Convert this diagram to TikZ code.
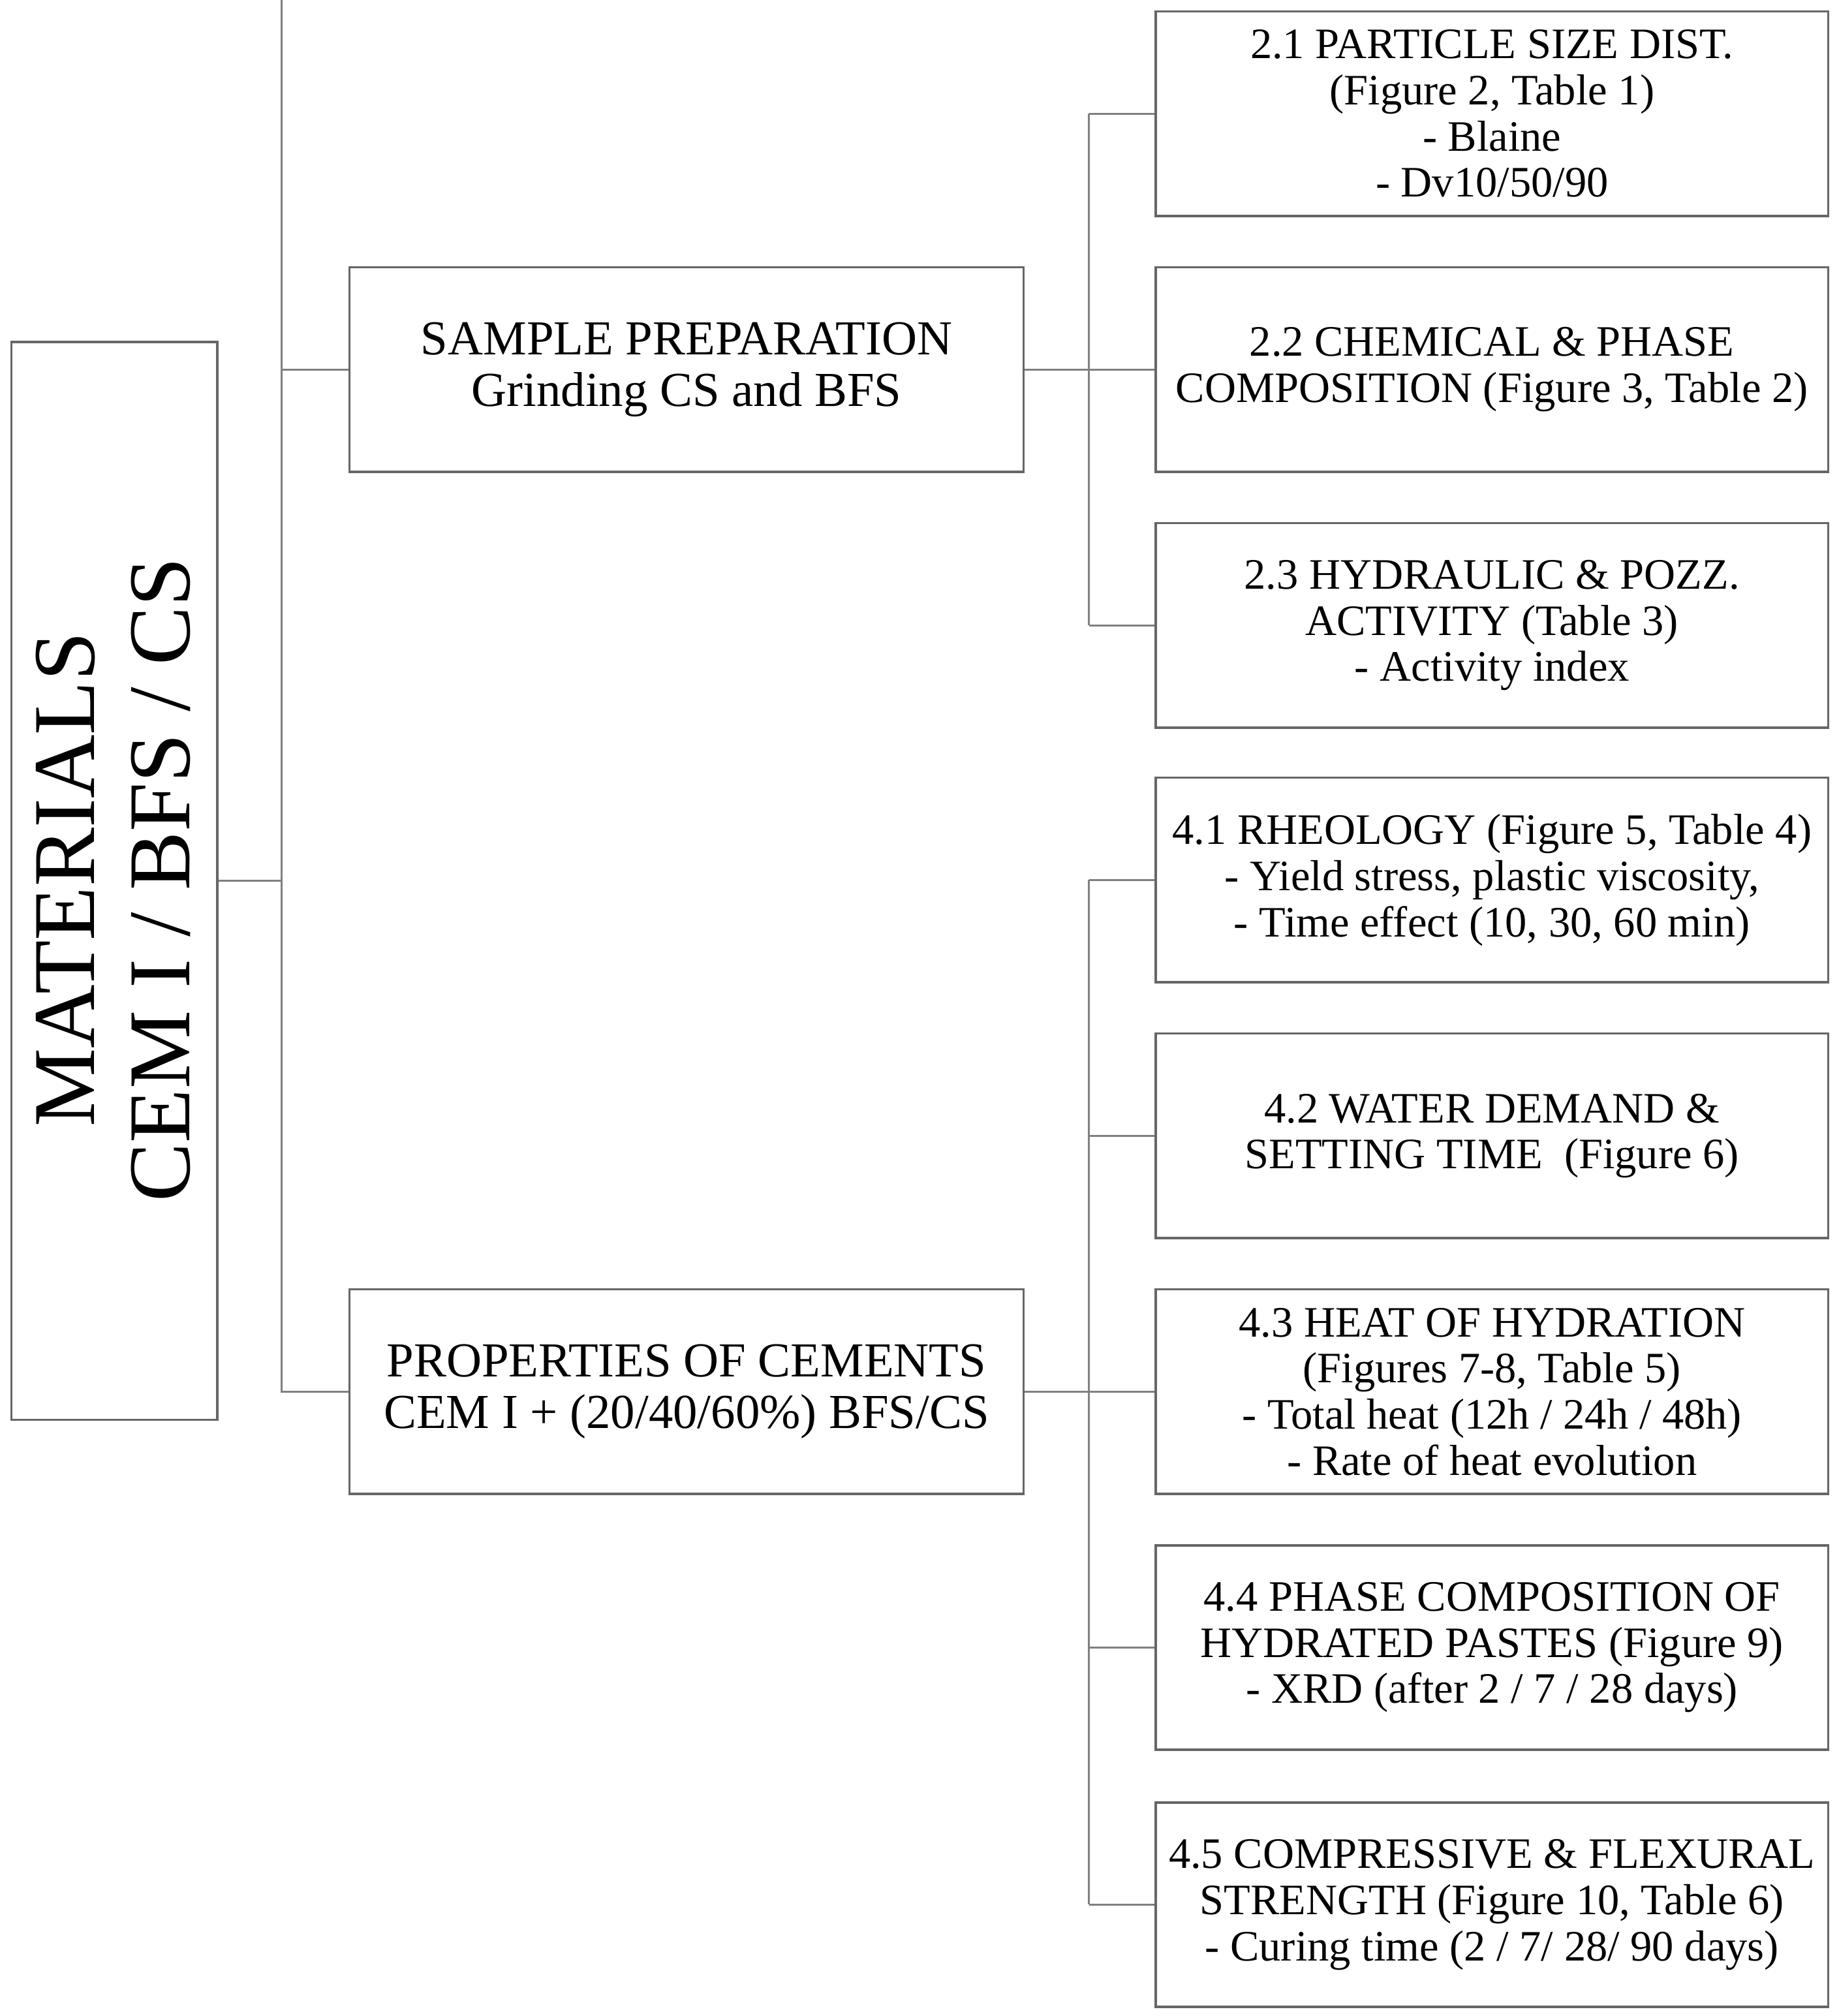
\documentclass[tikz,border=0pt]{standalone}
\usepackage{fontspec}
\setmainfont{Liberation Serif}
\begin{document}
\begin{tikzpicture}[x=0.01cm,y=-0.01cm,
  box/.style={draw=black!60,line width=0.5pt,inner sep=0pt,align=center,anchor=north west},
  rb/.style={box,minimum width=5.23cm,minimum height=1.59cm,font=\fontsize{9.6}{10.2}\selectfont},
  mb/.style={box,minimum width=5.24cm,minimum height=1.59cm,font=\fontsize{10.8}{11.4}\selectfont},
  ln/.style={draw=black!50,line width=0.5pt}]
\useasboundingbox (0,0) rectangle (1430,1568);
\node[box,minimum width=1.60cm,minimum height=8.38cm] (m) at (8,265) {};
\node[rotate=90,align=center,font=\fontsize{19.5}{21}\selectfont] (mt) at (88,684) {MATERIALS\\CEM I / BFS / CS};
\node[mb] (sp) at (271,207) {SAMPLE PREPARATION\\Grinding CS and BFS};
\node[mb] (pc) at (271,1002) {PROPERTIES OF CEMENTS\\CEM I + (20/40/60\%) BFS/CS};
\node[rb] (r1) at (898,8) {2.1 PARTICLE SIZE DIST.\\(Figure 2, Table 1)\\- Blaine\\- Dv10/50/90};
\node[rb] (r2) at (898,207) {2.2 CHEMICAL \& PHASE\\COMPOSITION (Figure 3, Table 2)};
\node[rb] (r3) at (898,406) {2.3 HYDRAULIC \& POZZ.\\ACTIVITY (Table 3)\\- Activity index};
\node[rb] (r4) at (898,604) {4.1 RHEOLOGY (Figure 5, Table 4)\\- Yield stress, plastic viscosity,\\- Time effect (10, 30, 60 min)};
\node[rb] (r5) at (898,803) {4.2 WATER DEMAND \&\\SETTING TIME\ \ (Figure 6)};
\node[rb] (r6) at (898,1002) {4.3 HEAT OF HYDRATION\\(Figures 7-8, Table 5)\\- Total heat (12h / 24h / 48h)\\- Rate of heat evolution};
\node[rb] (r7) at (898,1201) {4.4 PHASE COMPOSITION OF\\HYDRATED PASTES (Figure 9)\\- XRD (after 2 / 7 / 28 days)};
\node[rb] (r8) at (898,1401) {4.5 COMPRESSIVE \& FLEXURAL\\STRENGTH (Figure 10, Table 6)\\- Curing time (2 / 7/ 28/ 90 days)};
\coordinate (j0) at (219,0);
\coordinate (j1) at (847,0);
\draw[ln] (m.east) -- (m.east -| j0);
\draw[ln] (sp.west) -| (j0) |- (pc.west);
\draw[ln] (sp.west -| j0) -- (pc.west -| j0);
\draw[ln] (sp.east) -- (sp.east -| j1);
\foreach \n in {r1,r2,r3} \draw[ln] (\n.west) -- (\n.west -| j1);
\draw[ln] (r1.west -| j1) -- (r3.west -| j1);
\draw[ln] (pc.east) -- (pc.east -| j1);
\foreach \n in {r4,r5,r6,r7,r8} \draw[ln] (\n.west) -- (\n.west -| j1);
\draw[ln] (r4.west -| j1) -- (r8.west -| j1);
\end{tikzpicture}
\end{document}
